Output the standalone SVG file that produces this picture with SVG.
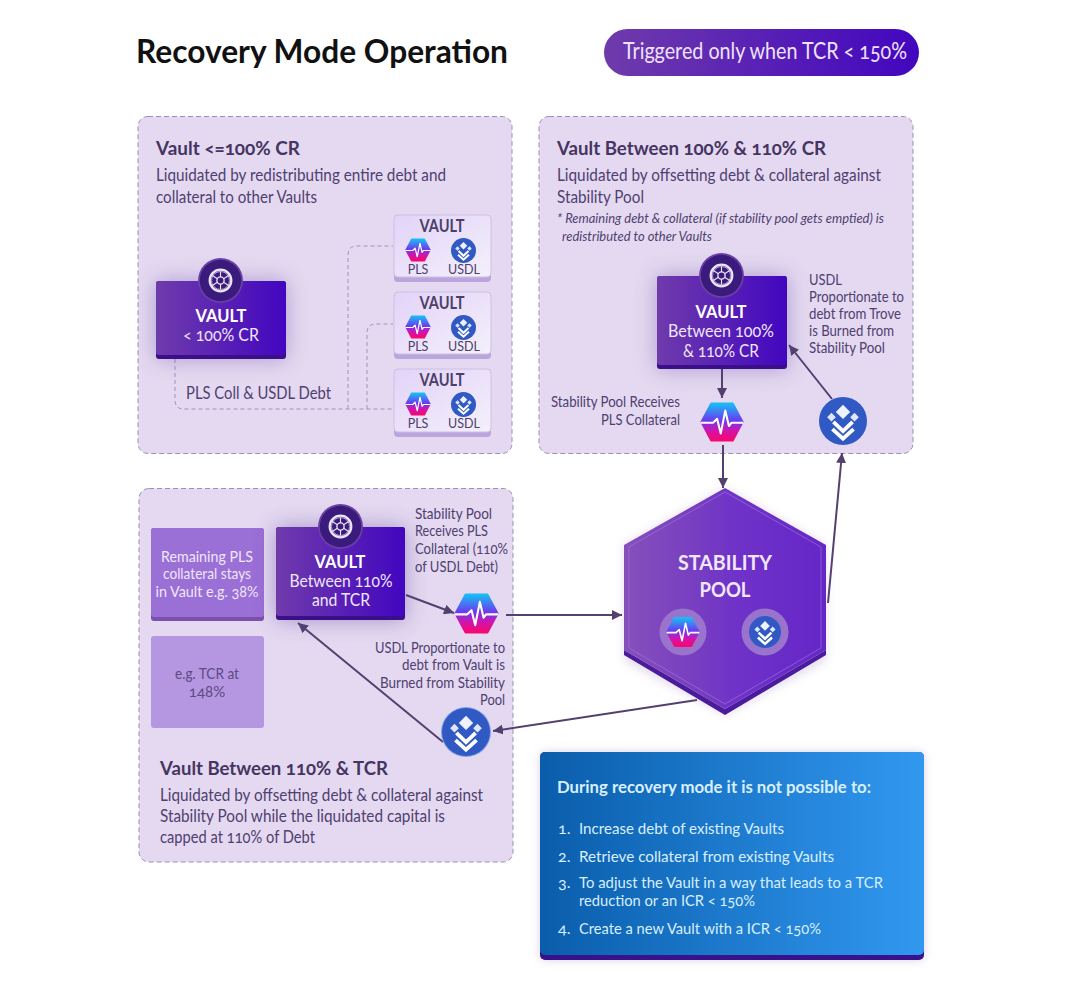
<svg xmlns="http://www.w3.org/2000/svg" width="1079" height="1007" viewBox="0 0 1079 1007">
<style>
text{font-family:"Lato","Open Sans","Liberation Sans",sans-serif;font-variant-numeric:oldstyle-nums;fill:#4f4070}
.h{font-size:19px;font-weight:700;fill:#453562}
.b{font-size:16.5px}
.s{font-size:15px}
.i{font-size:14px;font-style:italic}
.vt{font-size:16.5px;font-weight:700;fill:#fff;text-anchor:middle}
.vb{font-size:17px;fill:#efe6fb;text-anchor:middle}
.mt{font-size:16.5px;font-weight:700;fill:#4d4068;text-anchor:middle}
.ml{font-size:12.5px;fill:#4d4068;text-anchor:middle}
.box{font-size:15px;fill:#f0e6fb;text-anchor:middle}
.box2{font-size:15px;fill:#5d4a86;text-anchor:middle}
.w{font-size:16px;fill:#d8efff}
.panel{fill:#e4d9f0;stroke:#9d8fb8;stroke-width:1;stroke-dasharray:5 3}
.dash{fill:none;stroke:#a193bb;stroke-width:1;stroke-dasharray:4 3}
.arr{fill:none;stroke:#54406f;stroke-width:2;marker-end:url(#head)}
</style>
<defs>
<linearGradient id="vg" x1="0" x2="1" y1="0" y2="0"><stop offset="0" stop-color="#6f3bab"/><stop offset="1" stop-color="#4206bf"/></linearGradient>
<linearGradient id="pls" x1="0" x2="0" y1="0" y2="1"><stop offset="0" stop-color="#18bdf5"/><stop offset=".45" stop-color="#6a3cf0"/><stop offset=".75" stop-color="#d512a8"/><stop offset="1" stop-color="#f5086f"/></linearGradient>
<linearGradient id="hexL" x1="0" x2="1" y1="0" y2="0"><stop offset="0" stop-color="#8650bb"/><stop offset="1" stop-color="#7136c4"/></linearGradient>
<linearGradient id="hexR" x1="0" x2="1" y1="0" y2="0"><stop offset="0" stop-color="#7134c8"/><stop offset="1" stop-color="#6526c8"/></linearGradient>
<linearGradient id="blue" x1="0" x2="1" y1="0" y2="0"><stop offset="0" stop-color="#0a5dab"/><stop offset="1" stop-color="#3198f0"/></linearGradient>
<linearGradient id="mini" x1="0" x2="1" y1="0" y2="1"><stop offset="0" stop-color="#e2d3f8"/><stop offset="1" stop-color="#f4f0fb"/></linearGradient>
<filter id="glow" x="-40%" y="-40%" width="180%" height="180%"><feGaussianBlur stdDeviation="11"/></filter>
<filter id="soft" x="-10%" y="-10%" width="120%" height="120%"><feGaussianBlur stdDeviation="5"/></filter>
<marker id="head" markerUnits="userSpaceOnUse" markerWidth="11" markerHeight="10" refX="10" refY="5" orient="auto"><path d="M0 0L10 5L0 10z" fill="#54406f"/></marker>
<symbol id="plsI" viewBox="-54 -54 108 108">
<path d="M-26-45H26L50 0L26 45H-26L-50 0Z" fill="url(#pls)" stroke="url(#pls)" stroke-width="6" stroke-linejoin="round"/>
<path d="M-52 2H-22L-12-8L-3 28L8-28L17 10L23 2H52" fill="none" stroke="#fff" stroke-width="5" stroke-linejoin="round"/>
</symbol>
<symbol id="usdlI" viewBox="-50 -50 100 100">
<circle r="50" fill="#3159c4"/>
<path d="M0-34L15-19L0-4L-15-19Z" fill="#eef2ff"/>
<path d="M-33-8L-24-17L-15-8L-24 1Z M33-8L24-17L15-8L24 1Z" fill="#dfe7ff"/>
<path d="M-20 2L0 21L20 2" fill="none" stroke="#fff" stroke-width="8"/>
<path d="M-22 17L0 37L22 17" fill="none" stroke="#fff" stroke-width="8"/>
</symbol>
<symbol id="wheelI" viewBox="-50 -50 100 100">
<circle r="50" fill="#6a3fa8"/><circle r="46" fill="#3a1a7a"/>
<circle r="24" fill="none" stroke="#ece4f8" stroke-width="5"/>
<circle r="20" fill="none" stroke="#ece4f8" stroke-width="1.5"/>
<circle r="8" fill="none" stroke="#ece4f8" stroke-width="3"/>
<path d="M-18-11L-7-4M18-11L7-4M-18 11L-7 4M18 11L7 4M0-20V-8M0 20V8" stroke="#ece4f8" stroke-width="2.5"/>
</symbol>
</defs>
<rect width="1079" height="1007" fill="#fff"/>

<g id="title"><text x="136" y="63" style="fill:#111;font-size:33px;font-weight:700" textLength="372" lengthAdjust="spacingAndGlyphs">Recovery Mode Operation</text></g>
<g id="trigger"><rect x="604" y="29" width="315" height="47" rx="23.5" fill="url(#vg)"/><text x="623" y="59" style="font-size:23px;fill:#eee2fb" textLength="284" lengthAdjust="spacingAndGlyphs">Triggered only when TCR &lt; 150%</text></g>

<g id="panel-1"><rect class="panel" x="138" y="116.500" width="374" height="337" rx="10"/>
<text class="h" x="156" y="155" textLength="144" lengthAdjust="spacingAndGlyphs">Vault &lt;=100% CR</text>
<text class="b" x="156" y="181" textLength="290" lengthAdjust="spacingAndGlyphs">Liquidated by redistributing entire debt and</text>
<text class="b" x="156" y="203" textLength="161" lengthAdjust="spacingAndGlyphs">collateral to other Vaults</text>
</g>
<g id="panel-2"><rect class="panel" x="539" y="116.500" width="374" height="337" rx="10"/>
<text class="h" x="557" y="155" textLength="269" lengthAdjust="spacingAndGlyphs">Vault Between 100% &amp; 110% CR</text>
<text class="b" x="557" y="181" textLength="324" lengthAdjust="spacingAndGlyphs">Liquidated by offsetting debt &amp; collateral against</text>
<text class="b" x="557" y="203" textLength="87" lengthAdjust="spacingAndGlyphs">Stability Pool</text>
<text class="i" x="557" y="223" textLength="327" lengthAdjust="spacingAndGlyphs">* Remaining debt &amp; collateral (if stability pool  gets emptied) is</text>
<text class="i" x="562" y="241" textLength="150" lengthAdjust="spacingAndGlyphs">redistributed to other Vaults</text>
</g>
<g id="panel-3"><rect class="panel" x="139" y="488.500" width="374" height="373.500" rx="10"/>
<text class="h" x="160" y="775" textLength="228" lengthAdjust="spacingAndGlyphs">Vault Between 110% &amp; TCR</text>
<text class="b" x="160" y="801" textLength="323" lengthAdjust="spacingAndGlyphs">Liquidated by offsetting debt &amp; collateral against</text>
<text class="b" x="160" y="822" textLength="285" lengthAdjust="spacingAndGlyphs">Stability Pool while the liquidated capital is</text>
<text class="b" x="160" y="843" textLength="155" lengthAdjust="spacingAndGlyphs">capped at 110% of Debt</text>
</g>

<g id="connectors">
<path class="dash" d="M175 359V400Q175 409 184 409H393"/>
<path class="dash" d="M348 409V255Q348 246 357 246H393"/>
<path class="dash" d="M367 409V333Q367 324 376 324H393"/>
<path class="arr" d="M722 369V398"/>
<path class="arr" d="M723 445V488"/>
<path class="arr" d="M832 399L789 345"/>
<path class="arr" d="M828 603L842 453"/>
<path class="arr" d="M406 595L454 613"/>
<path class="arr" d="M506 615H622"/>
<path class="arr" d="M697 700L493 731"/>
<path class="arr" d="M443 742L298 623"/>
</g>

<g id="vault-a">
<rect x="156" y="281" width="130" height="78" fill="#5a3a9a" opacity=".4" filter="url(#glow)"/>
<rect x="156" y="281" width="130" height="78" rx="3" fill="#3b0f8a"/><rect x="156" y="281" width="130" height="74" rx="3" fill="url(#vg)"/>
<use href="#wheelI" x="198" y="258" width="45" height="45"/>
<text class="vt" x="221" y="322">VAULT</text><text class="vb" x="221" y="341" textLength="76" lengthAdjust="spacingAndGlyphs">&lt; 100% CR</text>
<text class="b" x="186" y="399" textLength="145" lengthAdjust="spacingAndGlyphs">PLS Coll &amp; USDL Debt</text>
</g>

<g id="mini-1"><rect x="394" y="215" width="97" height="67" rx="4" fill="#bba5dc"/><rect x="394" y="215" width="97" height="62" rx="4" fill="url(#mini)" stroke="#cdbfe6"/>
<text class="mt" x="442" y="232" textLength="45" lengthAdjust="spacingAndGlyphs">VAULT</text><use href="#plsI" x="405" y="237" width="26" height="26"/><use href="#usdlI" x="451" y="238" width="25" height="25"/><text class="ml" x="418" y="274">PLS</text><text class="ml" x="464" y="274">USDL</text></g>
<g id="mini-2"><rect x="394" y="292" width="97" height="67" rx="4" fill="#bba5dc"/><rect x="394" y="292" width="97" height="62" rx="4" fill="url(#mini)" stroke="#cdbfe6"/>
<text class="mt" x="442" y="309" textLength="45" lengthAdjust="spacingAndGlyphs">VAULT</text><use href="#plsI" x="405" y="314" width="26" height="26"/><use href="#usdlI" x="451" y="315" width="25" height="25"/><text class="ml" x="418" y="351">PLS</text><text class="ml" x="464" y="351">USDL</text></g>
<g id="mini-3"><rect x="394" y="369" width="97" height="68" rx="4" fill="#bba5dc"/><rect x="394" y="369" width="97" height="63" rx="4" fill="url(#mini)" stroke="#cdbfe6"/>
<text class="mt" x="442" y="386" textLength="45" lengthAdjust="spacingAndGlyphs">VAULT</text><use href="#plsI" x="405" y="391" width="26" height="26"/><use href="#usdlI" x="451" y="392" width="25" height="25"/><text class="ml" x="418" y="428">PLS</text><text class="ml" x="464" y="428">USDL</text></g>

<g id="vault-b">
<rect x="657" y="276" width="130" height="93" fill="#5a3a9a" opacity=".4" filter="url(#glow)"/>
<rect x="657" y="276" width="130" height="93" rx="3" fill="#3b0f8a"/><rect x="657" y="276" width="130" height="89" rx="3" fill="url(#vg)"/>
<use href="#wheelI" x="699" y="253" width="45" height="45"/>
<text class="vt" x="721" y="318">VAULT</text><text class="vb" x="721" y="337" textLength="106" lengthAdjust="spacingAndGlyphs">Between 100%</text><text class="vb" x="721" y="357" textLength="76" lengthAdjust="spacingAndGlyphs">&amp; 110% CR</text>
</g>
<g id="label-b-right">
<text class="s" x="809" y="285" textLength="33" lengthAdjust="spacingAndGlyphs">USDL</text>
<text class="s" x="809" y="302" textLength="95" lengthAdjust="spacingAndGlyphs">Proportionate to</text>
<text class="s" x="809" y="319" textLength="92" lengthAdjust="spacingAndGlyphs">debt from Trove</text>
<text class="s" x="809" y="336" textLength="85" lengthAdjust="spacingAndGlyphs">is Burned from</text>
<text class="s" x="809" y="353" textLength="76" lengthAdjust="spacingAndGlyphs">Stability Pool</text>
</g>
<g id="label-b-left">
<text class="s" x="551" y="407" textLength="129" lengthAdjust="spacingAndGlyphs">Stability Pool Receives</text>
<text class="s" x="601" y="425" textLength="79" lengthAdjust="spacingAndGlyphs">PLS Collateral</text>
</g>
<g id="pls-b"><use href="#plsI" x="700" y="400" width="44" height="44"/></g>
<g id="usdl-b"><use href="#usdlI" x="819" y="397" width="48" height="48"/></g>

<g id="remaining"><rect x="151" y="528" width="113" height="93" rx="3" fill="#7c50ad"/><rect x="151" y="528" width="113" height="89" rx="3" fill="#9a6fd6"/>
<text class="box" x="207" y="562" textLength="92" lengthAdjust="spacingAndGlyphs">Remaining PLS</text><text class="box" x="207" y="579" textLength="88" lengthAdjust="spacingAndGlyphs">collateral stays</text><text class="box" x="207" y="597" textLength="103" lengthAdjust="spacingAndGlyphs">in Vault e.g. 38%</text></g>
<g id="tcr-example"><rect x="151" y="636" width="113" height="92" rx="3" fill="#b497e0"/>
<text class="box2" x="207" y="679" textLength="64" lengthAdjust="spacingAndGlyphs">e.g. TCR at</text><text class="box2" x="207" y="697">148%</text></g>

<g id="vault-c">
<rect x="276" y="527" width="129" height="93" fill="#5a3a9a" opacity=".45" filter="url(#glow)"/>
<rect x="276" y="527" width="129" height="93" rx="3" fill="#3b0f8a"/><rect x="276" y="527" width="129" height="89" rx="3" fill="url(#vg)"/>
<use href="#wheelI" x="318" y="504" width="45" height="45"/>
<text class="vt" x="340" y="568">VAULT</text><text class="vb" x="341" y="587" textLength="103" lengthAdjust="spacingAndGlyphs">Between 110%</text><text class="vb" x="341" y="606" textLength="58" lengthAdjust="spacingAndGlyphs">and TCR</text>
</g>
<g id="label-c-top">
<text class="s" x="415" y="519" textLength="77" lengthAdjust="spacingAndGlyphs">Stability Pool</text>
<text class="s" x="415" y="536" textLength="73" lengthAdjust="spacingAndGlyphs">Receives PLS</text>
<text class="s" x="415" y="554" textLength="93" lengthAdjust="spacingAndGlyphs">Collateral (110%</text>
<text class="s" x="415" y="572" textLength="83" lengthAdjust="spacingAndGlyphs">of USDL Debt)</text>
</g>
<g id="label-c-bottom">
<text class="s" x="375" y="653" textLength="130" lengthAdjust="spacingAndGlyphs">USDL Proportionate to</text>
<text class="s" x="402" y="670" textLength="103" lengthAdjust="spacingAndGlyphs">debt from Vault is</text>
<text class="s" x="380" y="688" textLength="125" lengthAdjust="spacingAndGlyphs">Burned from Stability</text>
<text class="s" x="480" y="705" textLength="25" lengthAdjust="spacingAndGlyphs">Pool</text>
</g>
<g id="pls-c"><use href="#plsI" x="454" y="591" width="45" height="45"/></g>
<g id="usdl-c"><circle cx="466" cy="732" r="25" fill="#7fa0e8"/><use href="#usdlI" x="442" y="708" width="48" height="48"/></g>

<g id="stability-pool">
<path d="M725 488L826 545V661L725 715L624 661V545Z" fill="#7f54b0" opacity=".2" filter="url(#soft)"/>
<path d="M624 650V655L725 715L826 655V650L725 709Z" fill="#4a1c9c"/>
<path d="M725 488L725 709L624 650V545Z" fill="url(#hexL)"/>
<path d="M725 488L826 545V650L725 709Z" fill="url(#hexR)"/>
<path d="M725 492L821 547V648L725 704L629 648V547Z" fill="none" stroke="#a27ad8" stroke-width="1" opacity=".6"/>
<text x="725" y="570" text-anchor="middle" style="font-size:21px;font-weight:700;fill:#f1e6fc" textLength="94" lengthAdjust="spacingAndGlyphs">STABILITY</text>
<text x="725" y="597" text-anchor="middle" style="font-size:21px;font-weight:700;fill:#f1e6fc" textLength="51" lengthAdjust="spacingAndGlyphs">POOL</text>
<circle cx="683" cy="632" r="23.500" fill="#9a74cc"/><use href="#plsI" x="666" y="615" width="34" height="34"/>
<circle cx="765" cy="632" r="23.500" fill="#9a74cc"/><use href="#usdlI" x="749" y="616" width="32" height="32"/>
</g>

<g id="restrictions">
<rect x="540" y="752" width="384" height="208" rx="5" fill="#8a6cc0" opacity=".3" filter="url(#soft)"/>
<rect x="540" y="752" width="384" height="208" rx="5" fill="#37128c"/>
<rect x="540" y="752" width="384" height="203" rx="5" fill="url(#blue)"/>
<text x="557" y="793" style="font-size:17px;font-weight:700;fill:#d8efff" textLength="314" lengthAdjust="spacingAndGlyphs">During recovery mode it is not possible to:</text>
<text class="w" x="558" y="834">1.</text><text class="w" x="579" y="834" textLength="205" lengthAdjust="spacingAndGlyphs">Increase debt of existing Vaults</text>
<text class="w" x="558" y="862">2.</text><text class="w" x="579" y="862" textLength="255" lengthAdjust="spacingAndGlyphs">Retrieve collateral from existing Vaults</text>
<text class="w" x="558" y="888">3.</text><text class="w" x="579" y="888" textLength="304" lengthAdjust="spacingAndGlyphs">To adjust the Vault in a way that leads to a TCR</text>
<text class="w" x="579" y="906" textLength="176" lengthAdjust="spacingAndGlyphs">reduction or an ICR &lt; 150%</text>
<text class="w" x="558" y="934">4.</text><text class="w" x="579" y="934" textLength="242" lengthAdjust="spacingAndGlyphs">Create a new Vault with a ICR &lt; 150%</text>
</g>
</svg>
